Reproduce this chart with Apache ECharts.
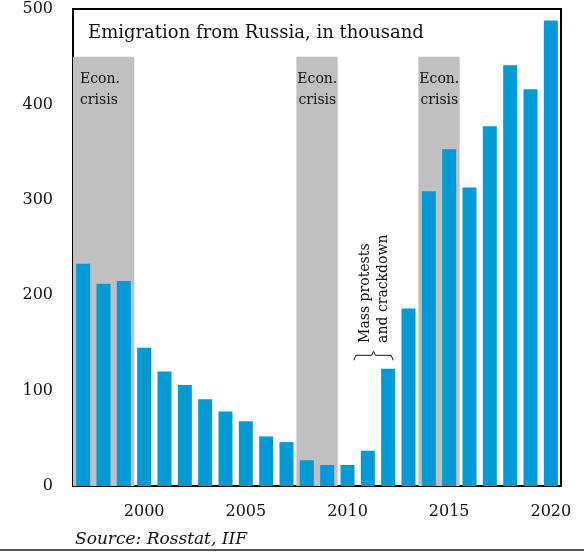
<!DOCTYPE html>
<html lang="en">
<head>
    <meta charset="UTF-8">
    <title>Emigration from Russia</title>
    <script src="https://cdn.jsdelivr.net/npm/echarts@6/dist/echarts.min.js"></script>
    <style>
        body { margin: 0; background: #fff; }
    </style>
</head>
<body>
    <div id="main" style="width: 584px;height:554px;"></div>
    <script>
        // data, in thousand people
        var years = ['1997', '1998', '1999', '2000', '2001', '2002', '2003', '2004', '2005', '2006', '2007', '2008',
                     '2009', '2010', '2011', '2012', '2013', '2014', '2015', '2016', '2017', '2018', '2019', '2020'];
        var emigrants = [233, 212, 215, 145, 120, 106, 91, 78, 68, 52, 46, 27,
                         22, 22, 37, 123, 186, 309, 353, 313, 377, 441, 416, 488];
        var crisisYears = ['1997', '1998', '1999', '2008', '2009', '2014', '2015'];
        var crisisStart = ['1997', '2008', '2014'];
        var crisisTop = 450;
        var xTickLabels = ['2000', '2005', '2010', '2015', '2020'];
        var yMax = 500, yStep = 100;

        var serif = '"DejaVu Serif", Georgia, serif';

        var bandData = years.map(function (y, i) {
            if (crisisYears.indexOf(y) < 0) return null;
            if (crisisStart.indexOf(y) < 0) return crisisTop;
            var first = i === 0;
            return {
                value: crisisTop,
                label: {
                    show: true,
                    formatter: 'Econ.\ncrisis',
                    position: first ? [7, 12] : ['100%', 12],
                    align: first ? 'left' : 'center',
                    fontFamily: serif,
                    fontSize: 14,
                    lineHeight: 21,
                    color: '#111'
                }
            };
        });

        var myChart = echarts.init(document.getElementById('main'));
        var option = {
            animation: false,
            title: {
                text: 'Emigration from Russia, in thousand',
                left: 83,
                top: 19,
                textStyle: { fontFamily: serif, fontSize: 18, fontWeight: 'normal', color: '#111' }
            },
            grid: {
                left: 73, right: 23, top: 9, bottom: 68,
                show: true, borderColor: '#000', borderWidth: 2
            },
            xAxis: [
                {
                    type: 'category',
                    data: years,
                    axisLine: { lineStyle: { color: '#000', width: 2 } },
                    axisTick: { show: false },
                    axisLabel: {
                        interval: 0,
                        margin: 18,
                        fontFamily: serif, fontSize: 16, color: '#111',
                        formatter: function (v) { return xTickLabels.indexOf(v) >= 0 ? v : ''; }
                    }
                },
                { type: 'category', data: years, show: false }
            ],
            yAxis: {
                type: 'value',
                min: 0, max: yMax, interval: yStep,
                splitLine: { show: false },
                axisLine: { show: false },
                axisTick: { show: false },
                axisLabel: { margin: 20, fontFamily: serif, fontSize: 16, color: '#111' }
            },
            series: [
                {
                    name: 'crisis',
                    type: 'bar',
                    xAxisIndex: 1,
                    data: bandData,
                    barWidth: 21,
                    itemStyle: { color: '#c0c0c0' },
                    z: 1,
                    silent: true
                },
                {
                    name: 'emigrants',
                    type: 'bar',
                    data: emigrants,
                    barWidth: 14,
                    itemStyle: { color: '#009bd6' },
                    z: 2
                }
            ]
        };
        myChart.setOption(option);

        // annotation next to 2011/2012
        var p11 = myChart.convertToPixel({ xAxisIndex: 0, yAxisIndex: 0 }, ['2011', 150]);
        var p12 = myChart.convertToPixel({ xAxisIndex: 0, yAxisIndex: 0 }, ['2012', 137]);
        var bx0 = p11[0] - 14, bx1 = p12[0] + 5, by = p12[1], bm = (bx0 + bx1) / 2;
        myChart.setOption({
            graphic: [
                {
                    type: 'text',
                    x: p11[0] - 11, y: p11[1],
                    rotation: Math.PI / 2,
                    style: {
                        text: 'Mass protests\nand crackdown',
                        font: '14px ' + serif,
                        lineHeight: 18,
                        fill: '#111',
                        align: 'left',
                        verticalAlign: 'top'
                    }
                },
                {
                    type: 'polyline',
                    shape: {
                        points: [[bx0, by + 5], [bx0 + 2, by], [bm - 2, by], [bm, by - 4],
                                 [bm + 2, by], [bx1 - 2, by], [bx1, by + 5]]
                    },
                    style: { stroke: '#111', lineWidth: 1, fill: null }
                },
                {
                    type: 'text',
                    left: 75, top: 531,
                    style: { text: 'Source: Rosstat, IIF', font: 'italic 17px ' + serif, fill: '#111' }
                },
                {
                    type: 'line',
                    shape: { x1: 0, y1: 550, x2: 584, y2: 550 },
                    style: { stroke: '#555', lineWidth: 2 }
                }
            ]
        });
    </script>
</body>
</html>
